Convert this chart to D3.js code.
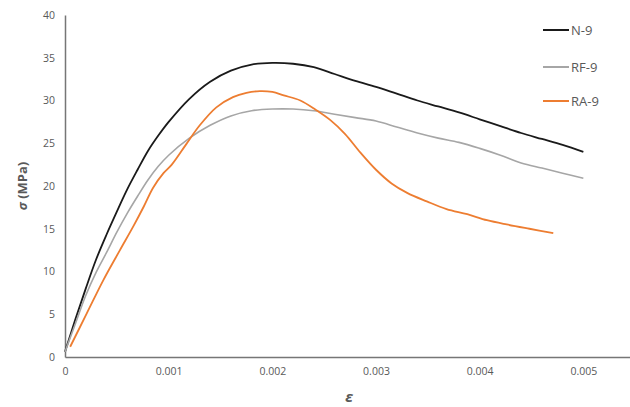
<!DOCTYPE html>
<html><head><meta charset="utf-8">
<script src="https://cdn.jsdelivr.net/npm/d3@7"></script>
<style>body{margin:0;background:#fff}svg{display:block}</style>
</head><body>
<script>
const seriesNames = ["N-9", "RF-9", "RA-9"];
const seriesColors = ["#1a1a1a", "#a6a6a6", "#ed7d31"];
const xTicks = [0, 0.001, 0.002, 0.003, 0.004, 0.005];
const yTicks = [0, 5, 10, 15, 20, 25, 30, 35, 40];

const n9Strain = [0, 0.0001, 0.0002, 0.0003, 0.0004, 0.0005, 0.0006, 0.0007, 0.0008, 0.0009, 0.001, 0.0012, 0.0014, 0.0016, 0.0018, 0.002, 0.0022, 0.0024, 0.0026, 0.0028, 0.003, 0.0032, 0.0034, 0.0036, 0.0038, 0.004, 0.0042, 0.0044, 0.0046, 0.0048, 0.005];
const n9Stress = [0.6, 4.4, 8.0, 11.4, 14.3, 17.0, 19.6, 21.9, 24.1, 25.9, 27.5, 30.2, 32.2, 33.5, 34.2, 34.4, 34.3, 33.9, 33.1, 32.3, 31.6, 30.8, 30.0, 29.3, 28.6, 27.8, 27.0, 26.2, 25.5, 24.8, 24.0];

const rf9Strain = [0, 0.0001, 0.0002, 0.0003, 0.0004, 0.0005, 0.0006, 0.0007, 0.0008, 0.0009, 0.001, 0.0012, 0.0014, 0.0016, 0.0018, 0.002, 0.0022, 0.0024, 0.0026, 0.0028, 0.003, 0.0032, 0.0034, 0.0036, 0.0038, 0.004, 0.0042, 0.0044, 0.0046, 0.0048, 0.005];
const rf9Stress = [0.6, 3.9, 7.2, 9.9, 12.2, 14.6, 16.8, 18.8, 20.7, 22.3, 23.6, 25.6, 27.1, 28.2, 28.8, 29.0, 29.0, 28.8, 28.4, 28.0, 27.6, 26.9, 26.2, 25.6, 25.1, 24.4, 23.6, 22.7, 22.1, 21.5, 20.9];

const ra9Strain = [0.00005, 0.00021, 0.00037, 0.00053, 0.00066, 0.00076, 0.00085, 0.00095, 0.00103, 0.00117, 0.0013, 0.00146, 0.00162, 0.00175, 0.00188, 0.002, 0.00211, 0.00227, 0.00242, 0.00256, 0.0027, 0.00285, 0.003, 0.00315, 0.0033, 0.00349, 0.00368, 0.00388, 0.00407, 0.00426, 0.00448, 0.00471];
const ra9Stress = [1.2, 5.1, 9.0, 12.5, 15.3, 17.6, 19.8, 21.5, 22.5, 24.9, 27.1, 29.2, 30.4, 30.9, 31.1, 31.0, 30.6, 30.0, 28.9, 27.7, 26.1, 23.9, 21.9, 20.3, 19.2, 18.2, 17.3, 16.7, 16.0, 15.5, 15.0, 14.5];

const W = 630, H = 407;
const svg = d3.select("body").append("svg").attr("width", W).attr("height", H);
const x = d3.scaleLinear().domain([0, 0.00545]).range([65, 630]);
const y = d3.scaleLinear().domain([0, 40]).range([357, 15]);

const tickColor = "#595959";
const font = "'Open Sans', 'Liberation Sans', sans-serif";

// axes
const xAxis = svg.append("g").attr("transform", "translate(0,357)")
  .call(d3.axisBottom(x).tickValues(xTicks).tickSize(0).tickPadding(11)
    .tickFormat(d => d === 0 ? "0" : d3.format(".3f")(d)));
const yAxis = svg.append("g").attr("transform", "translate(65,0)")
  .call(d3.axisLeft(y).tickValues(yTicks).tickSize(0).tickPadding(10));
[xAxis, yAxis].forEach(g => {
  g.select(".domain").attr("stroke", "#767676").attr("stroke-width", 1.5);
  g.selectAll("text").attr("fill", tickColor).attr("font-family", font).attr("font-size", 10.5);
});

// series
const series = [
  [n9Strain, n9Stress],
  [rf9Strain, rf9Stress],
  [ra9Strain, ra9Stress]
];
const line = d3.line().x(d => x(d[0])).y(d => y(d[1])).curve(d3.curveCatmullRom.alpha(0.5));
series.forEach((s, i) => {
  const pts = s[0].map((v, j) => [v, s[1][j]]);
  svg.append("path").datum(pts).attr("d", line)
    .attr("fill", "none").attr("stroke", seriesColors[i])
    .attr("stroke-width", i === 1 ? 1.6 : 1.8);
});

// legend
const legendY = [30, 67, 101];
seriesNames.forEach((name, i) => {
  svg.append("line").attr("x1", 543).attr("x2", 569)
    .attr("y1", legendY[i]).attr("y2", legendY[i])
    .attr("stroke", seriesColors[i]).attr("stroke-width", 2);
  svg.append("text").attr("x", 571).attr("y", legendY[i]).attr("dy", "0.35em")
    .attr("fill", tickColor).attr("font-family", font).attr("font-size", 13)
    .text(name);
});

// axis titles
svg.append("text").attr("transform", "translate(27,186) rotate(-90)")
  .attr("text-anchor", "middle").attr("fill", tickColor)
  .attr("font-family", font).attr("font-size", 13).attr("font-weight", "bold")
  .html('<tspan font-style="italic">σ</tspan> (MPa)');
svg.append("text").attr("x", 349).attr("y", 402)
  .attr("text-anchor", "middle").attr("fill", tickColor)
  .attr("font-family", font).attr("font-size", 15).attr("font-weight", "bold")
  .attr("font-style", "italic").text("ε");
</script>
</body></html>
